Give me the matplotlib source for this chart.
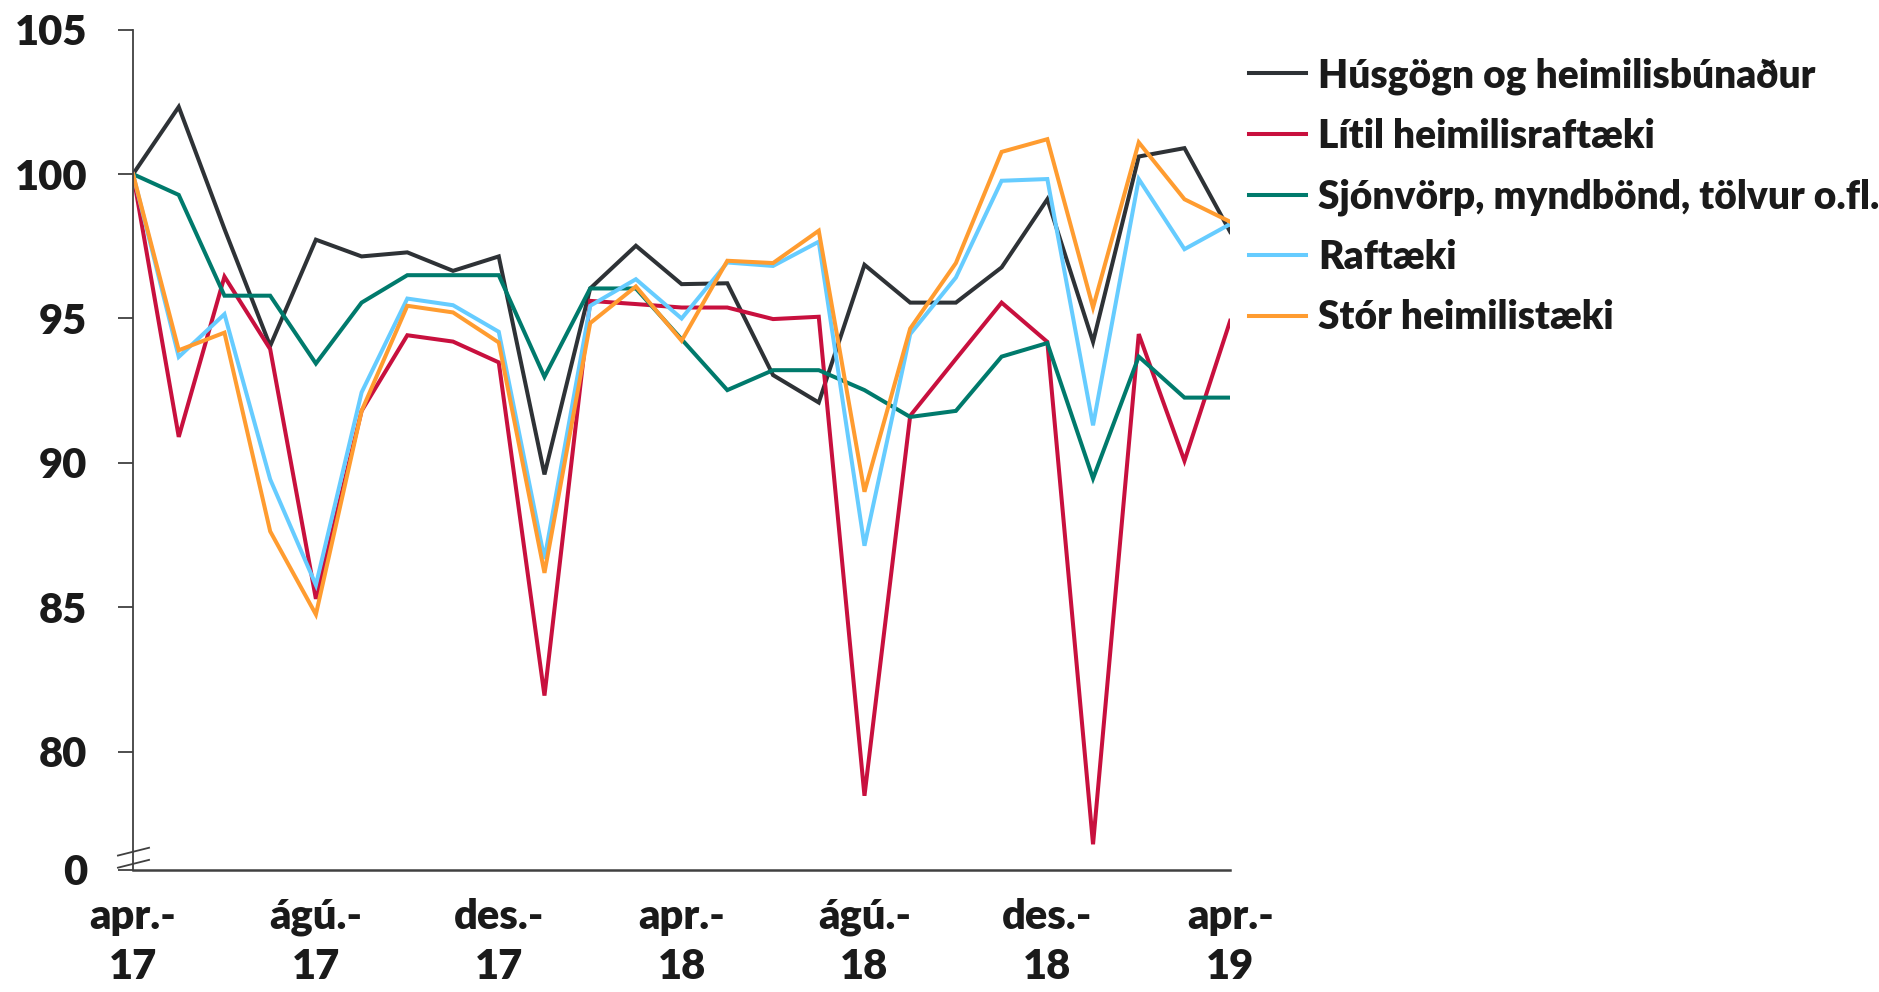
import matplotlib
matplotlib.use("Agg")
import matplotlib.pyplot as plt

# ---- data ----
x_tick_labels = ["apr.-\n17", "ágú.-\n17", "des.-\n17", "apr.-\n18", "ágú.-\n18", "des.-\n18", "apr.-\n19"]
series_names = ["Húsgögn og heimilisbúnaður", "Lítil heimilisraftæki",
                "Sjónvörp, myndbönd, tölvur o.fl.", "Raftæki", "Stór heimilistæki"]
husgogn = [100, 102.33, 98.1, 94.05, 97.73, 97.15, 97.29, 96.65, 97.15, 89.6, 96.04, 97.52, 96.19,
           96.22, 93.04, 92.09, 96.86, 95.55, 95.55, 96.77, 99.13, 94.19, 100.61, 100.9, 98.0]
litil = [100, 90.9, 96.45, 93.94, 85.29, 91.8, 94.42, 94.2, 93.48, 81.94, 95.61, 95.5, 95.38,
         95.38, 94.98, 95.06, 78.47, 91.63, 93.6, 95.55, 94.19, 76.79, 94.46, 90.07, 94.92]
sjonvorp = [100, 99.28, 95.79, 95.79, 93.44, 95.55, 96.5, 96.5, 96.5, 92.98, 96.04, 96.04, 94.28,
            92.52, 93.21, 93.21, 92.52, 91.59, 91.8, 93.68, 94.15, 89.46, 93.68, 92.26, 92.26]
raftaeki = [100, 93.67, 95.15, 89.43, 85.77, 92.44, 95.69, 95.46, 94.54, 86.67, 95.44, 96.36, 95.0,
            96.94, 96.82, 97.66, 87.13, 94.46, 96.42, 99.77, 99.83, 91.3, 99.83, 97.4, 98.27]
stor = [100, 93.9, 94.51, 87.63, 84.75, 91.8, 95.44, 95.21, 94.17, 86.19, 94.84, 96.11, 94.23,
        97.0, 96.92, 98.04, 89.0, 94.65, 96.92, 100.77, 101.21, 95.38, 101.1, 99.13, 98.35]
y_ticks = [80, 85, 90, 95, 100, 105]
y_bottom = 75.9

colors = ["#2e3236", "#c8103e", "#007a6c", "#66ccff", "#ff9c30"]

plt.rcParams['font.family'] = ['Lato', 'DejaVu Sans']
plt.rcParams['font.weight'] = 'heavy'

fig = plt.figure(figsize=(18.79, 9.92), dpi=100)
ax = fig.add_axes([0.0708, 0.123, 0.6547 - 0.0708, 0.970 - 0.123])

all_series = [husgogn, litil, sjonvorp, raftaeki, stor]
xs = list(range(len(husgogn)))
for s, c, n in zip(all_series, colors, series_names):
    ax.plot(xs, s, color=c, lw=2.9, label=n, solid_joinstyle='miter')

ax.set_xlim(0, len(husgogn) - 1)
ax.set_ylim(y_bottom, 105)

axis_col = "#404040"
for sp in ["top", "right"]:
    ax.spines[sp].set_visible(False)
ax.spines["left"].set_color(axis_col)
ax.spines["bottom"].set_color(axis_col)
ax.spines["left"].set_linewidth(1.3)
ax.spines["bottom"].set_linewidth(1.8)

ax.set_yticks([y_bottom] + y_ticks)
ax.set_yticklabels(["0"] + [str(v) for v in y_ticks])
ax.tick_params(axis="y", length=11, width=1.3, color=axis_col, pad=22,
               labelsize=30, labelcolor="#1a1a1a")
ax.set_xticks(list(range(0, len(husgogn), 4)))
ax.set_xticklabels(x_tick_labels, linespacing=1.38)
ax.tick_params(axis="x", length=0, pad=20, labelsize=30, labelcolor="#1a1a1a")

# axis break marks
for y0 in [75.98, 76.40]:
    ax.plot([-0.33, 0.35], [y0, y0 + 0.27], color=axis_col, lw=1.3, clip_on=False)

leg = fig.legend(loc="upper left", bbox_to_anchor=(0.6646, 0.9425), frameon=False,
                 fontsize=28, handlelength=1.48, handletextpad=0.31, labelspacing=0.6,
                 borderaxespad=0, borderpad=0)
for t in leg.get_texts():
    t.set_color("#1a1a1a")

fig.savefig("out.png", dpi=100)
